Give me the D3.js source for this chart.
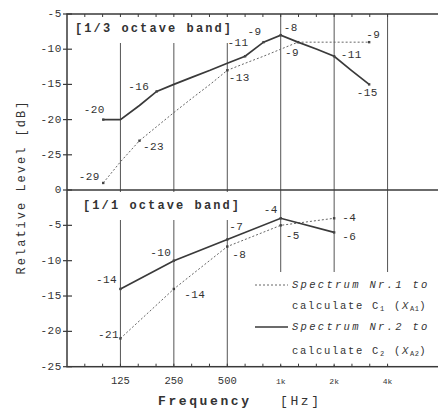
<!DOCTYPE html>
<html lang="en">
<head>
<meta charset="utf-8">
<title>Spectra</title>
<script src="https://cdn.jsdelivr.net/npm/d3@7"></script>
<style>
 body { margin: 0; background: #fff; }
 text { fill: #333; font-family: "Liberation Mono", monospace; }
</style>
</head>
<body>
<script type="text/javascript">

 // 1/3 octave band values
 var thirdFreqs = [100, 125, 160, 200, 250, 315, 400, 500, 630, 800, 1000, 1250, 1600, 2000, 2500, 3150];
 var thirdSpec1 = [-29, -26, -23, -21, -19, -17, -15, -13, -12, -11, -10, -9, -9, -9, -9, -9];
 var thirdSpec2 = [-20, -20, -18, -16, -15, -14, -13, -12, -11, -9, -8, -9, -10, -11, -13, -15];

 // 1/1 octave band values
 var octFreqs = [125, 250, 500, 1000, 2000];
 var octSpec1 = [-21, -14, -8, -5, -4];
 var octSpec2 = [-14, -10, -7, -4, -6];

 var gridFreqs = [125, 250, 500, 1000, 2000, 4000];
 var xTickLabels = ["125", "250", "500", "1k", "2k", "4k"];
 var topTicks = [-5, -10, -15, -20, -25];
 var botTicks = [0, -5, -10, -15, -20, -25];

 // which points carry a value label: [series, index, dx, dy]
 var topLabels = [
     [2, 0, -9, -10], [1, 0, -14, -6], [1, 2, 14, 6], [2, 3, -18, -4],
     [1, 7, 12, 8], [2, 8, -7, -13], [2, 9, -9, -10], [2, 10, 10, -7],
     [1, 11, -6, 11], [1, 15, 4, -7], [2, 13, 17, -1], [2, 15, -2, 9]
 ];
 var botLabels = [
     [2, 0, -14, -9], [1, 0, -12, -3], [2, 1, -13, -8], [1, 1, 21, 6],
     [2, 2, 9, -12], [1, 2, 12, 8], [2, 3, -10, -8], [1, 3, 12, 11],
     [1, 4, 15, 0], [2, 4, 15, 5]
 ];

 var width = 438, height = 410;
 var pLeft = 67, pTop = 14, pMid = 190, pBottom = 366.7;

 var svg = d3.select("body").append("svg")
	     .attr("width", width)
	     .attr("height", height);

 var x = d3.scaleLog().base(2).domain([62.5, 8000]).range([pLeft, 441]);
 var yTop = d3.scaleLinear().domain([-30, -5]).range([pMid, pTop]);
 var yBot = d3.scaleLinear().domain([-25, 0]).range([pBottom, pMid]);

 var ink = "#3a3a3a";

 // vertical octave lines
 [[pTop, pMid], [pMid, pBottom]].forEach(function (r) {
     svg.selectAll(null).data(gridFreqs).enter().append("line")
	.attr("x1", function (d) { return x(d); })
	.attr("x2", function (d) { return x(d); })
	.attr("y1", r[0]).attr("y2", r[1])
	.attr("stroke", "#555").attr("stroke-width", 1);
 });

 // panel titles with white boxes over grid
 function panelTitle(txt, xp, yp) {
     svg.append("rect").attr("x", xp - 4).attr("y", yp - 14)
	.attr("width", 160).attr("height", 28).attr("fill", "#fff");
     svg.append("text").attr("x", xp).attr("y", yp)
	.attr("dominant-baseline", "central")
	.style("font-size", "12px").style("letter-spacing", "2.1px")
	.style("font-weight", "bold")
	.text(txt);
 }
 panelTitle("[1/3 octave band]", 75, 29);
 panelTitle("[1/1 octave band]", 83, 206);

 // legend box
 svg.append("rect").attr("x", 250).attr("y", 272).attr("width", 200).attr("height", 93)
    .attr("fill", "#fff");

 // frame
 svg.append("rect").attr("x", pLeft).attr("y", pTop)
    .attr("width", 380).attr("height", pBottom - pTop)
    .attr("fill", "none").attr("stroke", ink).attr("stroke-width", 1.5);
 svg.append("line").attr("x1", pLeft).attr("x2", 447).attr("y1", pMid).attr("y2", pMid)
    .attr("stroke", ink).attr("stroke-width", 1.5);

 // y ticks crossing the axis
 function yTicks(scale, vals) {
     svg.selectAll(null).data(vals).enter().append("line")
	.attr("x1", pLeft - 4).attr("x2", pLeft + 5)
	.attr("y1", function (d) { return scale(d); })
	.attr("y2", function (d) { return scale(d); })
	.attr("stroke", ink).attr("stroke-width", 1.2);
     svg.selectAll(null).data(vals).enter().append("text")
	.attr("x", pLeft - 5)
	.attr("y", function (d) { return scale(d); })
	.attr("text-anchor", "end").attr("dominant-baseline", "central")
	.style("font-size", "11px").style("letter-spacing", "0.6px")
	.text(function (d) { return d; });
 }
 yTicks(yTop, topTicks);
 yTicks(yBot, botTicks);

 // x minor ticks at 1/3 octaves
 var minor = d3.range(-2, 19).map(function (i) { return 62.5 * Math.pow(2, i / 3); })
	       .filter(function (f) { return x(f) > pLeft + 2 && x(f) < width; });
 svg.selectAll(null).data(minor).enter().append("line")
    .attr("x1", function (d) { return x(d); })
    .attr("x2", function (d) { return x(d); })
    .attr("y1", pBottom).attr("y2", pBottom - 3)
    .attr("stroke", ink);
 svg.selectAll(null).data(minor).enter().append("line")
    .attr("x1", function (d) { return x(d); })
    .attr("x2", function (d) { return x(d); })
    .attr("y1", pTop).attr("y2", pTop + 3)
    .attr("stroke", ink);

 // x tick labels
 svg.selectAll(null).data(gridFreqs).enter().append("text")
    .attr("x", function (d) { return x(d); })
    .attr("y", 381)
    .attr("text-anchor", "middle").attr("dominant-baseline", "central")
    .style("font-size", function (d, i) { return i < 3 ? "10.5px" : "8px"; })
    .text(function (d, i) { return xTickLabels[i]; });

 // axis titles
 svg.append("text").attr("x", 158).attr("y", 401)
    .attr("dominant-baseline", "central")
    .style("font-size", "13px").style("letter-spacing", "2.6px").style("font-weight", "bold")
    .text("Frequency");
 svg.append("text").attr("x", 280).attr("y", 401)
    .attr("dominant-baseline", "central")
    .style("font-size", "13px").style("letter-spacing", "2.6px")
    .text("[Hz]");
 svg.append("text")
    .attr("transform", "translate(22,187) rotate(-90)")
    .attr("text-anchor", "middle").attr("dominant-baseline", "central")
    .style("font-size", "12px").style("letter-spacing", "2px")
    .text("Relative Level  [dB]");

 // series lines
 function series(freqs, vals, scale, dashed) {
     var line = d3.line()
		  .x(function (d, i) { return x(freqs[i]); })
		  .y(function (d) { return scale(d); });
     svg.append("path").datum(vals)
	.attr("d", line)
	.attr("fill", "none")
	.attr("stroke", dashed ? "#666" : "#3a3a3a")
	.attr("stroke-width", dashed ? 1 : 1.7)
	.attr("stroke-dasharray", dashed ? "2,2" : null);
 }
 series(thirdFreqs, thirdSpec1, yTop, true);
 series(thirdFreqs, thirdSpec2, yTop, false);
 series(octFreqs, octSpec1, yBot, true);
 series(octFreqs, octSpec2, yBot, false);

 // value labels with small markers on the labelled points
 function valueLabels(list, freqs, s1, s2, scale) {
     function val(d) { return (d[0] === 1 ? s1 : s2)[d[1]]; }
     svg.selectAll(null).data(list).enter().append("rect")
	.attr("x", function (d) { return x(freqs[d[1]]) - 1.2; })
	.attr("y", function (d) { return scale(val(d)) - 1.2; })
	.attr("width", 2.4).attr("height", 2.4)
	.attr("fill", "#444");
     svg.selectAll(null).data(list).enter().append("text")
	.attr("x", function (d) { return x(freqs[d[1]]) + d[2]; })
	.attr("y", function (d) { return scale(val(d)) + d[3]; })
	.attr("text-anchor", "middle").attr("dominant-baseline", "central")
	.style("font-size", "11px").style("letter-spacing", "0.4px")
	.text(val);
 }
 valueLabels(topLabels, thirdFreqs, thirdSpec1, thirdSpec2, yTop);
 valueLabels(botLabels, octFreqs, octSpec1, octSpec2, yBot);

 // legend
 var legend = svg.append("g");
 legend.append("line").attr("x1", 255).attr("x2", 288).attr("y1", 285).attr("y2", 285)
       .attr("stroke", "#666").attr("stroke-dasharray", "2,2");
 legend.append("line").attr("x1", 255).attr("x2", 288).attr("y1", 327).attr("y2", 327)
       .attr("stroke", "#3a3a3a").attr("stroke-width", 1.7);
 var lrows = [
     [285, "Spectrum Nr.1 to", true],
     [306, "calculate C", false, "1", "A1"],
     [327, "Spectrum Nr.2 to", true],
     [351, "calculate C", false, "2", "A2"]
 ];
 lrows.forEach(function (r) {
     var t = legend.append("text").attr("x", 292).attr("y", r[0])
		   .attr("dominant-baseline", "central")
		   .style("font-size", "10.5px")
		   .style("letter-spacing", r[2] ? "2.3px" : "1.7px")
		   .style("font-style", r[2] ? "italic" : "normal");
     if (r[2]) {
	 t.text(r[1]);
     } else {
	 t.append("tspan").text(r[1]);
	 t.append("tspan").attr("dy", 3).style("font-size", "7px").text(r[3]);
	 t.append("tspan").attr("dy", -3).text(" (");
	 t.append("tspan").style("font-style", "italic").text("X");
	 t.append("tspan").attr("dy", 3).style("font-size", "7px").style("letter-spacing", "0.5px").text(r[4]);
	 t.append("tspan").attr("dy", -3).text(")");
     }
 });

</script>
</body>
</html>
